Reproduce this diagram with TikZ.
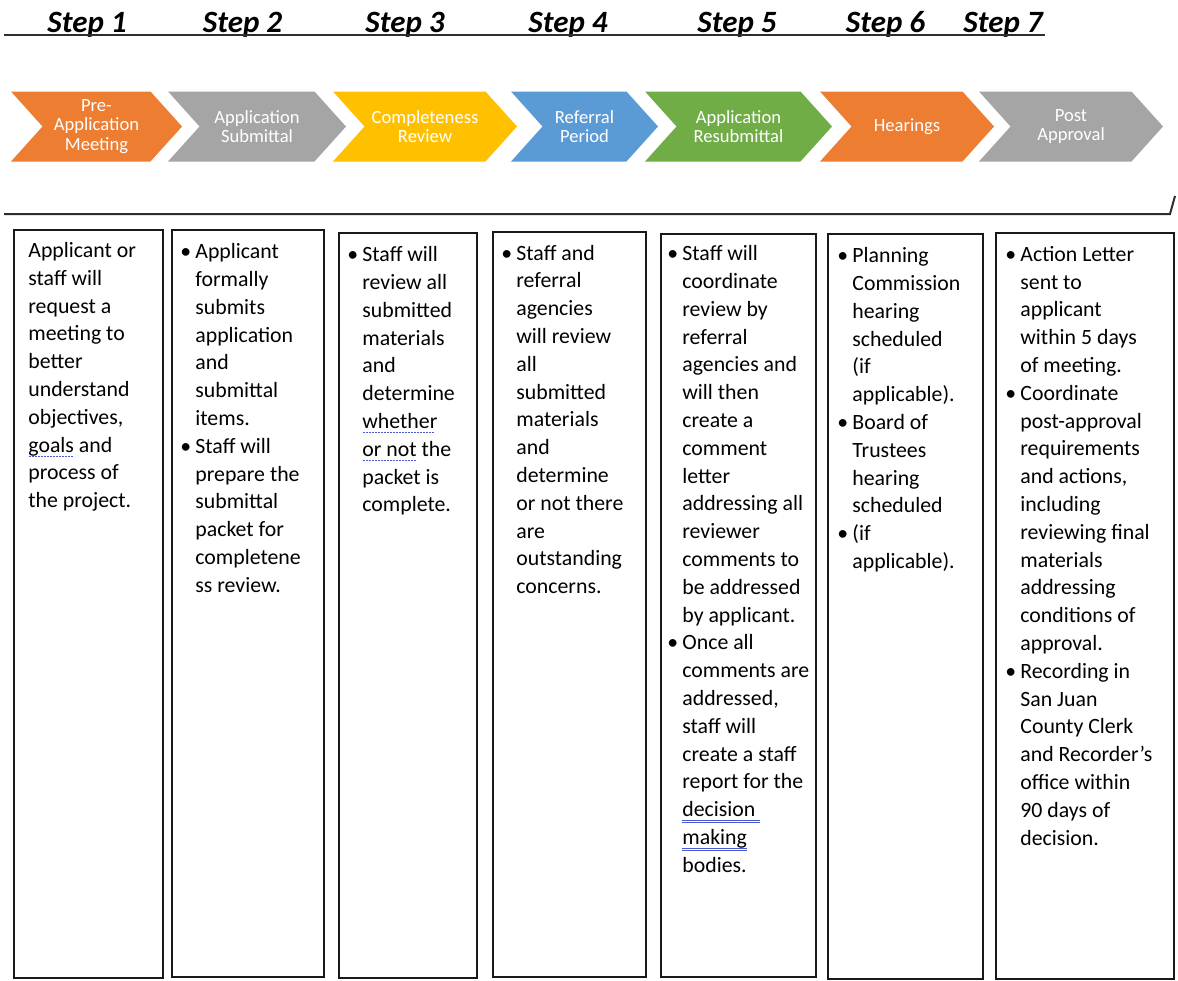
\documentclass[tikz,border=0pt]{standalone}
\usepackage{fontspec}
\setmainfont{Carlito}
\usetikzlibrary{positioning,shapes.symbols}
\definecolor{stepOrange}{HTML}{ED7D31}
\definecolor{stepGray}{HTML}{A5A5A5}
\definecolor{stepGold}{HTML}{FFC000}
\definecolor{stepBlue}{HTML}{5B9BD5}
\definecolor{stepGreen}{HTML}{70AD47}
\definecolor{ruleGray}{HTML}{2E2E2E}
\definecolor{chkBlue}{HTML}{4A5BD0}

\newcommand\bul{\makebox[7.5pt][l]{\textbullet}}
\newcommand\dotchk[1]{\setbox0=\hbox{#1}\rlap{\color{chkBlue}\raisebox{-2.3pt}{\hbox to\wd0{\leaders\hbox to 1.5pt{\hss\rule{0.75pt}{0.55pt}\hss}\hfill}}}\box0\relax}
\newcommand\dblchk[1]{\setbox0=\hbox{#1}\rlap{\color{chkBlue}\rule[-2pt]{\wd0}{0.45pt}\hskip-\wd0\rule[-3.2pt]{\wd0}{0.45pt}}\box0\relax}

\begin{document}
\begin{tikzpicture}[x=0.5pt,y=-0.5pt,
    stepnum/.style={anchor=base,inner sep=0,font=\fontsize{15.5}{18}\selectfont\bfseries\itshape},
    chev/.style={signal,signal from=west,signal to=east,signal pointer angle=96,
        minimum height=35pt,inner sep=0,text=white,align=center,
        font=\fontsize{9.3}{9.8}\selectfont},
    stepbox/.style={draw=black!90,line width=1pt,inner sep=0,anchor=north west},
    body/.style={inner sep=0,font=\fontsize{10.9}{13.9}\selectfont},
    hline/.style={draw=ruleGray,line width=1pt}
]
\useasboundingbox (0,0) rectangle (1178,980);

% step numbers and rules
\foreach \n/\cx in {1/87,2/242.5,3/405,4/568,5/737,6/885.5,7/1003}
    \node[stepnum] (s\n) at (\cx,32) {Step \n};
\draw[hline] (4,34.5) -- (1045,34.5);
\draw[hline] (4,214) -- (1170,214) -- (1175,196);

% chevrons
\foreach \n/\cx/\w/\col/\txt in {
    1/96.5/171/stepOrange/{Pre-\\Application\\Meeting},
    2/257/178/stepGray/{Application\\Submittal},
    3/425/184/stepGold/{Completeness\\Review},
    4/584.5/147/stepBlue/{Referral\\Period},
    5/738.5/187/stepGreen/{Application\\Resubmittal},
    6/907/174/stepOrange/{Hearings},
    7/1071/184/stepGray/{Post\\Approval}}
    \node[chev,fill=\col,minimum width=\w*0.5pt] (c\n) at (\cx,126.5) {\txt};

% columns
\foreach \n/\l/\t/\r/\b in {1/13/229/162/977,2/171/229/323/976,3/338/232/476/977,
    4/492/231/645/976,5/660/233/815/976,6/827/233/982/978,7/995/232/1173/978}
    \node[stepbox,minimum width={(\r-\l)*0.5pt},minimum height={(\b-\t)*0.5pt}] (b\n) at (\l,\t) {};

\node[body,below right=4.3pt and 7.5pt of b1.north west] (t1) {\begin{tabular}{@{}l@{}}
Applicant or\\ staff will\\ request a\\ meeting to\\ better\\ understand\\ objectives,\\
\dotchk{goals} and\\ process of\\ the project.
\end{tabular}};

\node[body,below right=4.9pt and 4.5pt of b2.north west] (t2) {\begin{tabular}{@{}l@{}l@{}}
\bul & Applicant\\ & formally\\ & submits\\ & application\\ & and\\ & submittal\\ & items.\\
\bul & Staff will\\ & prepare the\\ & submittal\\ & packet for\\ & completene\\ & ss review.
\end{tabular}};

\node[body,below right=4.9pt and 4.5pt of b3.north west] (t3) {\begin{tabular}{@{}l@{}l@{}}
\bul & Staff will\\ & review all\\ & submitted\\ & materials\\ & and\\ & determine\\
& \dotchk{whether}\\ & \dotchk{or not} the\\ & packet is\\ & complete.
\end{tabular}};

\node[body,below right=4.6pt and 4.5pt of b4.north west] (t4) {\begin{tabular}{@{}l@{}l@{}}
\bul & Staff and\\ & referral\\ & agencies\\ & will review\\ & all\\ & submitted\\ & materials\\
& and\\ & determine\\ & or not there\\ & are\\ & outstanding\\ & concerns.
\end{tabular}};

\node[body,below right=3.9pt and 3.5pt of b5.north west] (t5) {\begin{tabular}{@{}l@{}l@{}}
\bul & Staff will\\ & coordinate\\ & review by\\ & referral\\ & agencies and\\ & will then\\
& create a\\ & comment\\ & letter\\ & addressing all\\ & reviewer\\ & comments to\\
& be addressed\\ & by applicant.\\
\bul & Once all\\ & comments are\\ & addressed,\\ & staff will\\ & create a staff\\
& report for the\\ & \dblchk{decision }\\ & \dblchk{making}\\ & bodies.
\end{tabular}};

\node[body,below right=4.9pt and 5pt of b6.north west] (t6) {\begin{tabular}{@{}l@{}l@{}}
\bul & Planning\\ & Commission\\ & hearing\\ & scheduled\\ & (if\\ & applicable).\\
\bul & Board of\\ & Trustees\\ & hearing\\ & scheduled\\
\bul & (if\\ & applicable).
\end{tabular}};

\node[body,below right=4.7pt and 5pt of b7.north west] (t7) {\begin{tabular}{@{}l@{}l@{}}
\bul & Action Letter\\ & sent to\\ & applicant\\ & within 5 days\\ & of meeting.\\
\bul & Coordinate\\ & post-approval\\ & requirements\\ & and actions,\\ & including\\
& reviewing final\\ & materials\\ & addressing\\ & conditions of\\ & approval.\\
\bul & Recording in\\ & San Juan\\ & County Clerk\\ & and Recorder’s\\ & office within\\
& 90 days of\\ & decision.
\end{tabular}};
\end{tikzpicture}
\end{document}
